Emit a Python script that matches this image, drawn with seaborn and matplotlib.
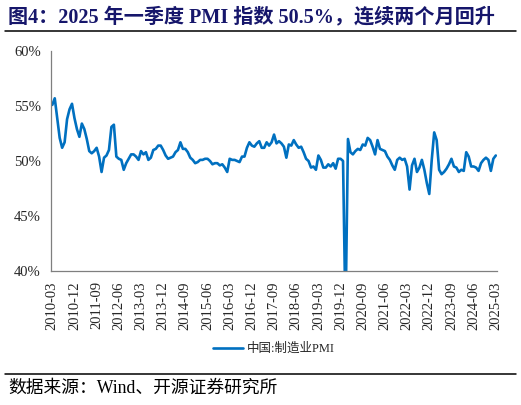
import numpy as np
import pandas as pd
import matplotlib
matplotlib.use('Agg')
import matplotlib.pyplot as plt
import seaborn as sns
from matplotlib.ticker import PercentFormatter

# China manufacturing PMI, monthly 2010-03 .. 2025-03
start_month = '2010-03'
pmi = [
    55.1, 55.7, 53.9, 52.1, 51.2, 51.7, 53.8, 54.7, 55.2, 53.9,  # 2010-03..12
    52.9, 52.2, 53.4, 52.9, 52.0, 50.9, 50.7, 50.9, 51.2, 50.4, 49.0, 50.3,  # 2011
    50.5, 51.0, 53.1, 53.3, 50.4, 50.2, 50.1, 49.2, 49.8, 50.2, 50.6, 50.6,  # 2012
    50.4, 50.1, 50.9, 50.6, 50.8, 50.1, 50.3, 51.0, 51.1, 51.4, 51.4, 51.0,  # 2013
    50.5, 50.2, 50.3, 50.4, 50.8, 51.0, 51.7, 51.1, 51.1, 50.8, 50.3, 50.1,  # 2014
    49.8, 49.9, 50.1, 50.1, 50.2, 50.2, 50.0, 49.7, 49.8, 49.8, 49.6, 49.7,  # 2015
    49.4, 49.0, 50.2, 50.1, 50.1, 50.0, 49.9, 50.4, 50.4, 51.2, 51.7, 51.4,  # 2016
    51.3, 51.6, 51.8, 51.2, 51.2, 51.7, 51.4, 51.7, 52.4, 51.6, 51.8, 51.6,  # 2017
    51.3, 50.3, 51.5, 51.4, 51.9, 51.5, 51.2, 51.3, 50.8, 50.2, 50.0, 49.4,  # 2018
    49.5, 49.2, 50.5, 50.1, 49.4, 49.4, 49.7, 49.5, 49.8, 49.3, 50.2, 50.2,  # 2019
    50.0, 35.7, 52.0, 50.8, 50.6, 50.9, 51.1, 51.0, 51.5, 51.4, 52.1, 51.9,  # 2020
    51.3, 50.6, 51.9, 51.1, 51.0, 50.9, 50.4, 50.1, 49.6, 49.2, 50.1, 50.3,  # 2021
    50.1, 50.2, 49.5, 47.4, 49.6, 50.2, 49.0, 49.4, 50.1, 49.2, 48.0, 47.0,  # 2022
    50.1, 52.6, 51.9, 49.2, 48.8, 49.0, 49.3, 49.7, 50.2, 49.5, 49.4, 49.0,  # 2023
    49.2, 49.1, 50.8, 50.4, 49.5, 49.5, 49.4, 49.1, 49.8, 50.1, 50.3, 50.1,  # 2024
    49.1, 50.2, 50.5,  # 2025
]
months = pd.period_range(start_month, periods=len(pmi), freq='M').strftime('%Y-%m')
series_name = '中国:制造业PMI'
title = '图4：2025 年一季度 PMI 指数 50.5%，连续两个月回升'
source = '数据来源：Wind、开源证券研究所'

df = pd.DataFrame({'idx': np.arange(len(pmi)), 'month': months, 'value': pmi})

sns.set_style('white')
serif_cjk = ['Liberation Serif', 'Noto Sans CJK SC']
plt.rcParams['font.family'] = serif_cjk
plt.rcParams['axes.unicode_minus'] = False

fig = plt.figure(figsize=(5.21, 4.05), dpi=100)
ax = fig.add_axes([0.098, 0.331, 0.856, 0.543])

sns.lineplot(data=df, x='idx', y='value', ax=ax, color='#0070C0', linewidth=1.9,
             label=series_name)

ax.set_ylim(40, 60)
ax.set_yticks([40, 45, 50, 55, 60])
ax.yaxis.set_major_formatter(PercentFormatter(decimals=0))
ax.set_xlim(-0.5, len(pmi) - 0.5)
tick_pos = np.arange(0, len(pmi), 9)
ax.set_xticks(tick_pos)
ax.set_xticklabels([months[i] for i in tick_pos], rotation=90)
ax.tick_params(axis='both', direction='in', length=4, color='#7f7f7f', width=0.8,
               labelsize=10.5, pad=7.5)
ax.set_xlabel('')
ax.set_ylabel('')
for side in ['top', 'right']:
    ax.spines[side].set_visible(False)
for side in ['left', 'bottom']:
    ax.spines[side].set_color('#7f7f7f')
    ax.spines[side].set_linewidth(0.9)

leg = ax.legend(loc='upper center', bbox_to_anchor=(0.5, -0.275), frameon=False,
                handlelength=2.4, handletextpad=0.3,
                prop={'family': serif_cjk, 'size': 9})

fig.text(0.015, 0.958, title, fontsize=14.5, fontweight='bold', color='#16166b',
         va='center', ha='left', family=serif_cjk)
fig.add_artist(plt.Line2D([0.01, 0.99], [0.923, 0.923], color='black', linewidth=1.1))
fig.add_artist(plt.Line2D([0.01, 0.99], [0.077, 0.077], color='black', linewidth=1.1))
fig.text(0.015, 0.042, source, fontsize=12.8, color='black', va='center', ha='left',
         family=serif_cjk)

fig.savefig('out.png', dpi=100)
